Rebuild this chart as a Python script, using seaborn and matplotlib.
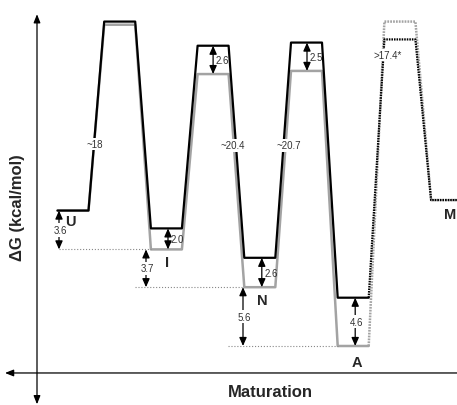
import seaborn as sns
import matplotlib.pyplot as plt
import pandas as pd

# energies (kcal/mol), gray lowest level A = 0
states = ["U", "TS1", "I", "TS2", "N", "TS3", "A", "TS4", "M"]
g_black = [12.9, 30.9, 11.2, 28.6, 8.4, 28.9, 4.6, 29.2, 13.9]
g_gray = [12.9, 30.6, 9.2, 25.9, 5.6, 26.2, 0.0, 30.9, 13.9]
state_labels = ["U", "I", "N", "A", "M"]
barrier_labels = ["~18", "~20.4", "~20.7", ">17.4*"]
gap_labels = ["3.6", "2.0", "3.7", "2.6", "5.6", "4.6", "2.6", "2.5"]

sns.set_style("white")
plt.rcParams['font.family'] = ['Liberation Sans', 'DejaVu Sans']

fig = plt.figure(figsize=(4.57, 4.06), dpi=100)
ax = fig.add_axes([0, 0, 1, 1])

# layout: plateau centres spaced evenly
cx = [73 + 46.7 * i for i in range(len(states))]
hw = 15.5


def path(energies, idx, extend_right=False):
    xs, ys = [], []
    for i in idx:
        xs += [cx[i] - hw, cx[i] + hw]
        ys += [energies[i], energies[i]]
    if extend_right:
        xs[-1] = 457
    return pd.DataFrame({"x": xs, "y": ys})


def dotted_tail(energies):
    d = path(energies, [6, 7, 8], extend_right=True)
    return d.iloc[1:]


gray = "#a3a3a3"
dots = (0, (0.7, 0.45))
sns.lineplot(data=path(g_gray, range(7)), x="x", y="y", sort=False,
             estimator=None, color=gray, lw=1.8, ax=ax)
sns.lineplot(data=dotted_tail(g_gray), x="x", y="y", sort=False,
             estimator=None, color=gray, lw=1.8, ls=dots, ax=ax)
sns.lineplot(data=path(g_black, range(7)), x="x", y="y", sort=False,
             estimator=None, color="black", lw=1.6, ax=ax)
sns.lineplot(data=dotted_tail(g_black), x="x", y="y", sort=False,
             estimator=None, color="black", lw=1.6, ls=dots, ax=ax)

# dotted reference levels
ax.hlines(g_gray[2], 59, cx[2] - hw, colors="#888888", lw=0.8, ls=":")
ax.hlines(g_gray[4], 135, cx[4] - hw, colors="#888888", lw=0.8, ls=":")
ax.hlines(g_gray[6], 228, cx[6] - hw, colors="#888888", lw=0.8, ls=":")

arrow = dict(arrowstyle="<|-|>,head_length=0.5,head_width=0.22",
             color="black", lw=0.9, shrinkA=0, shrinkB=0)

# (x, top, bottom, label, centred?)
gaps = [
    (59, g_black[0], g_gray[2], gap_labels[0], True),
    (cx[2] + 1.6, g_black[2], g_gray[2], gap_labels[1], False),
    (146, g_gray[2], g_gray[4], gap_labels[2], True),
    (cx[4] + 2, g_black[4], g_gray[4], gap_labels[3], False),
    (243, g_gray[4], g_gray[6], gap_labels[4], True),
    (cx[6] + 2, g_black[6], g_gray[6], gap_labels[5], True),
    (cx[3], g_black[3], g_gray[3], gap_labels[6], False),
    (cx[5] + 0.5, g_black[5], g_gray[5], gap_labels[7], False),
]
for x, top, bot, lab, centred in gaps:
    ax.annotate("", xy=(x, top), xytext=(x, bot), arrowprops=arrow)
    if centred:
        ax.text(x + 1, (top + bot) / 2, lab, fontsize=7, ha="center",
                va="center", color="#333333",
                bbox=dict(fc="white", ec="none", pad=1.2))
    else:
        ax.text(x + 2.5, (top + bot) / 2, lab, fontsize=7, ha="left",
                va="center", color="#333333")

# state names
for lab, x, y in zip(state_labels, [70, 167, 262, 357, 450],
                     [11.9, 8.0, 4.4, -1.5, 12.6]):
    ax.text(x, y, lab, fontsize=10.5, fontweight="bold", ha="center",
            va="center")

# barrier heights
for lab, x, y in zip(barrier_labels, [95, 233, 289, 388],
                     [19.2, 19.1, 19.1, 27.7]):
    ax.text(x, y, lab, fontsize=7, ha="center", va="center",
            color="#333333", bbox=dict(fc="white", ec="none", pad=0.8))

# hand-drawn axes
ax.annotate("", xy=(37, 31.6), xytext=(37, -5.55),
            arrowprops=dict(arrowstyle="<|-|>,head_length=0.5,head_width=0.2",
                            color="black", lw=0.9, shrinkA=0, shrinkB=0))
ax.annotate("", xy=(5, -2.57), xytext=(457, -2.57),
            arrowprops=dict(arrowstyle="-|>,head_length=0.5,head_width=0.2",
                            color="black", lw=0.9, shrinkA=0, shrinkB=0))
ax.text(18, 13.3, "ΔG (kcal/mol)", rotation=90, fontsize=12,
        fontweight="bold", ha="center", va="center")
ax.text(270, -4.3, "Maturation", fontsize=12, fontweight="bold",
        ha="center", va="center")

ax.set_xlim(0, 457)
ax.set_ylim(-5.62, 33.05)
ax.axis("off")
fig.savefig("out.png", dpi=100)
